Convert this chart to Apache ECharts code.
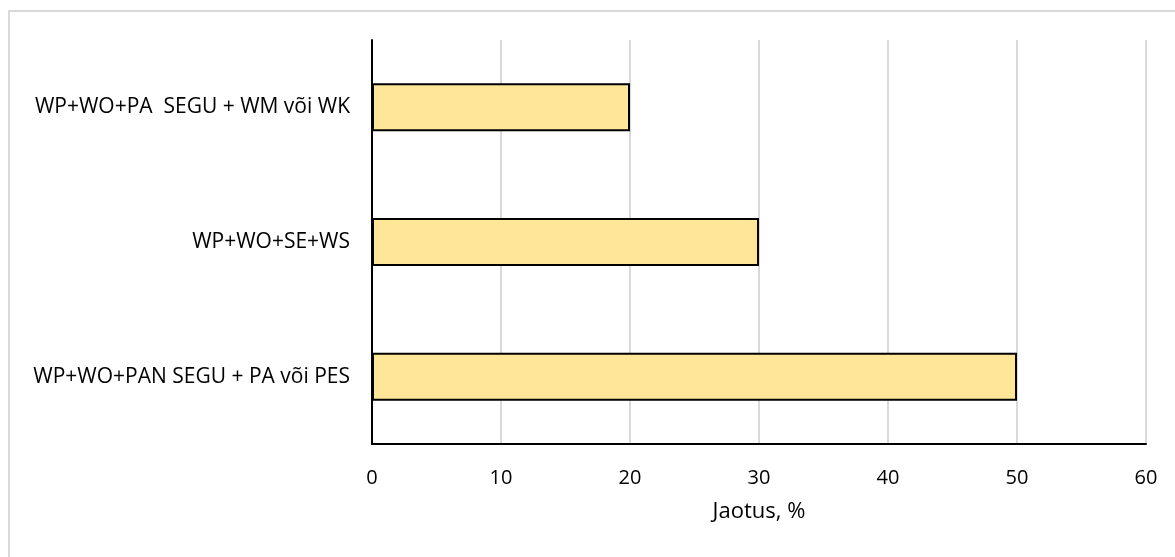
<!DOCTYPE html>
<html><head><meta charset="utf-8">
<script src="https://cdn.jsdelivr.net/npm/echarts@6/dist/echarts.min.js"></script>
<style>html,body{margin:0;padding:0;background:#fff}#c{width:1175px;height:557px}</style>
</head><body><div id="c"></div>
<script>
const categories = ["WP+WO+PAN SEGU + PA või PES", "WP+WO+SE+WS", "WP+WO+PA  SEGU + WM või WK"];
const values = [50, 30, 20];
const axisName = "Jaotus, %";

const chart = echarts.init(document.getElementById('c'), null, {renderer: 'canvas'});
const font = "'Open Sans', 'Liberation Sans', sans-serif";
chart.setOption({
  animation: false,
  backgroundColor: '#fff',
  graphic: [{type: 'rect', shape: {x: 9, y: 11, width: 1180, height: 560}, style: {fill: 'none', stroke: '#d9d9d9', lineWidth: 2}, silent: true}],
  grid: {left: 372, right: 29, top: 40, bottom: 113},
  xAxis: {
    type: 'value', min: 0, max: 60, interval: 10,
    name: axisName, nameLocation: 'middle', nameGap: 57,
    nameTextStyle: {fontFamily: font, fontSize: 22, color: '#000'},
    axisLine: {show: true, lineStyle: {color: '#000', width: 2}},
    axisTick: {show: false},
    axisLabel: {fontFamily: font, fontSize: 20, color: '#000', margin: 24},
    splitLine: {show: true, lineStyle: {color: '#d9d9d9', width: 2}}
  },
  yAxis: {
    type: 'category', data: categories,
    axisLine: {show: true, onZero: false, lineStyle: {color: '#000', width: 2}},
    axisTick: {show: false},
    axisLabel: {fontFamily: font, fontSize: 21, color: '#000', margin: 22},
    splitLine: {show: false}
  },
  series: [{
    type: 'bar', data: values, barWidth: 48,
    itemStyle: {color: '#FFE699', borderColor: '#000', borderWidth: 2}
  }]
});
</script></body></html>
